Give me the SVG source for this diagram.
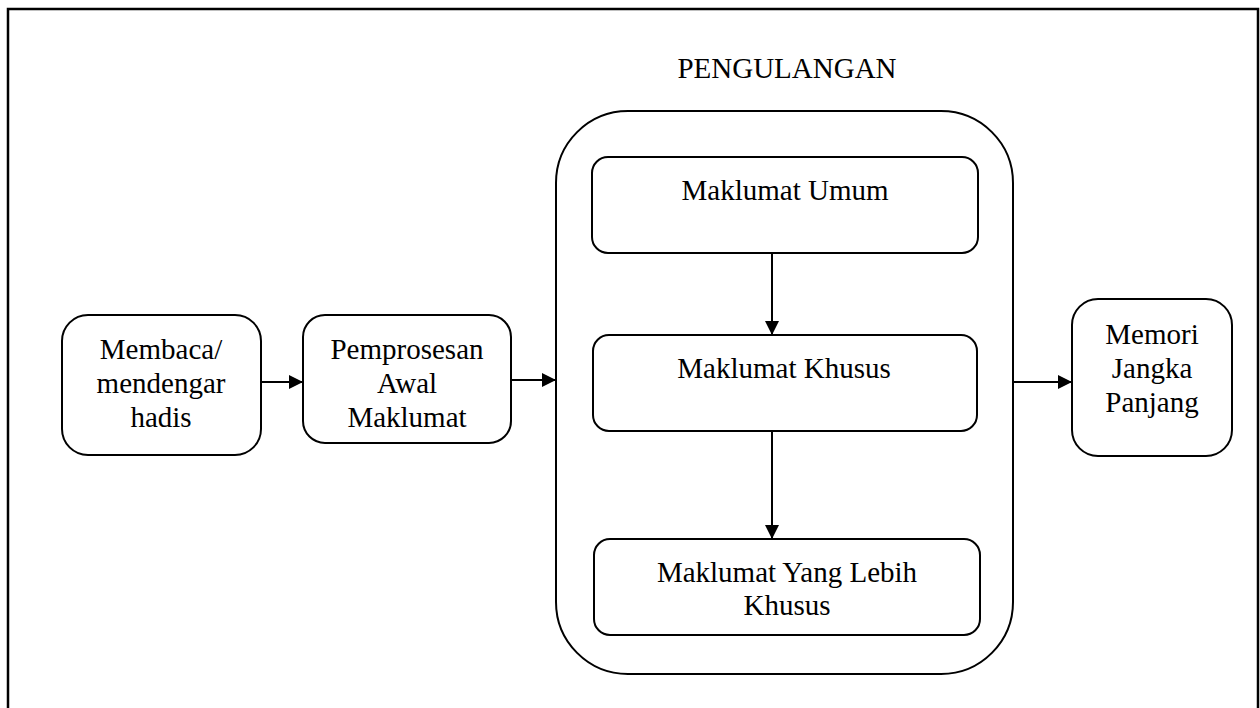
<svg xmlns="http://www.w3.org/2000/svg" width="1260" height="708" viewBox="0 0 1260 708">
<defs>
<style>
.box{fill:#fff;stroke:#000;stroke-width:2}
.t{font-family:"Liberation Serif","Times New Roman",serif;font-size:29px;fill:#000;text-anchor:middle}
.c{stroke:#000;stroke-width:2;fill:none;marker-end:url(#ah)}
</style>
<marker id="ah" viewBox="0 0 14 14" refX="14" refY="7" markerWidth="14" markerHeight="14" markerUnits="userSpaceOnUse" orient="auto">
<path d="M0,0 L14,7 L0,14 Z" fill="#000"/>
</marker>
</defs>
<rect width="1260" height="708" fill="#fff"/>
<path d="M8,708 V9 H1258 V708" fill="none" stroke="#000" stroke-width="2.5"/>
<g id="pengulangan">
<rect class="box" x="556" y="111" width="457" height="563" rx="72" ry="72"/>
<text class="t" x="787" y="78">PENGULANGAN</text>
</g>
<g id="membaca">
<rect class="box" x="62" y="315" width="199" height="140" rx="26" ry="26"/>
<text class="t" x="161" y="359">Membaca/</text>
<text class="t" x="161" y="393">mendengar</text>
<text class="t" x="161" y="427">hadis</text>
</g>
<g id="pemprosesan">
<rect class="box" x="303" y="315" width="208" height="128" rx="22" ry="22"/>
<text class="t" x="407" y="359">Pemprosesan</text>
<text class="t" x="407" y="393">Awal</text>
<text class="t" x="407" y="427">Maklumat</text>
</g>
<g id="umum">
<rect class="box" x="592" y="157" width="386" height="96" rx="16" ry="16"/>
<text class="t" x="785" y="200">Maklumat Umum</text>
</g>
<g id="khusus">
<rect class="box" x="593" y="335" width="384" height="96" rx="16" ry="16"/>
<text class="t" x="784" y="378">Maklumat Khusus</text>
</g>
<g id="lebih">
<rect class="box" x="594" y="539" width="386" height="96" rx="16" ry="16"/>
<text class="t" x="787" y="582">Maklumat Yang Lebih</text>
<text class="t" x="787" y="615">Khusus</text>
</g>
<g id="memori">
<rect class="box" x="1072" y="299" width="160" height="157" rx="26" ry="26"/>
<text class="t" x="1152" y="344">Memori</text>
<text class="t" x="1152" y="378">Jangka</text>
<text class="t" x="1152" y="412">Panjang</text>
</g>
<g id="connectors">
<line class="c" x1="261" y1="382" x2="303" y2="382"/>
<line class="c" x1="511" y1="380" x2="556" y2="380"/>
<line class="c" x1="772" y1="253" x2="772" y2="335"/>
<line class="c" x1="772" y1="431" x2="772" y2="539"/>
<line class="c" x1="1013" y1="382" x2="1072" y2="382"/>
</g>
</svg>
